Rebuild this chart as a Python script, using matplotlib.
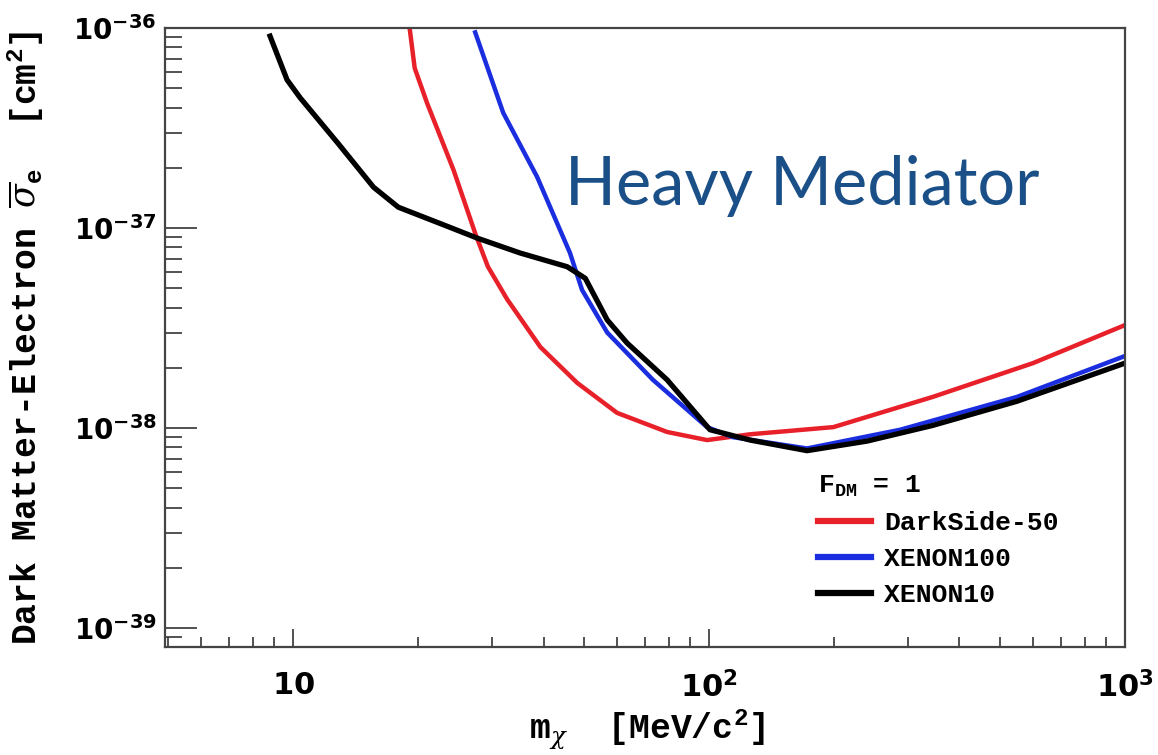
import matplotlib.pyplot as plt
from matplotlib.ticker import LogLocator, FixedLocator, FixedFormatter, NullFormatter

# DarkSide-50 limit
ds50_mass = [19.0, 19.6, 21.0, 24.3, 27.5, 29.4, 32.7, 39.3, 48.2, 60.1, 79.3, 98.9, 125.5, 199, 345, 601, 1000]
ds50_sigma = [1.05e-36, 6.3e-37, 4.2e-37, 1.95e-37, 9.2e-38, 6.4e-38, 4.4e-38, 2.54e-38, 1.68e-38,
              1.19e-38, 9.55e-39, 8.7e-39, 9.3e-39, 1.01e-38, 1.43e-38, 2.11e-38, 3.27e-38]

# XENON100 limit
x100_mass = [27.4, 32.0, 38.6, 46.3, 49.5, 56.9, 73.3, 98.9, 114, 172, 288, 550, 1000]
x100_sigma = [9.5e-37, 3.76e-37, 1.8e-37, 7.5e-38, 4.9e-38, 3.0e-38, 1.74e-38, 1.01e-38,
              9.0e-39, 7.9e-39, 9.8e-39, 1.43e-38, 2.29e-38]

# XENON10 limit
x10_mass = [8.8, 9.67, 10.4, 12.8, 15.6, 17.9, 22.9, 27.7, 35.1, 45.6, 50.4, 56.9, 63.5, 79.3,
            100.5, 125.5, 172, 240, 345, 550, 1000]
x10_sigma = [9.1e-37, 5.5e-37, 4.47e-37, 2.66e-37, 1.6e-37, 1.27e-37, 1.04e-37, 8.9e-38, 7.5e-38,
             6.4e-38, 5.6e-38, 3.47e-38, 2.66e-38, 1.74e-38, 9.8e-39, 8.7e-39, 7.7e-39, 8.6e-39,
             1.03e-38, 1.36e-38, 2.11e-38]

x_ticks = [10, 100, 1000]
x_ticklabels = [r"$\mathbf{10}$", r"$\mathbf{10^{2}}$", r"$\mathbf{10^{3}}$"]
y_ticks = [1e-39, 1e-38, 1e-37, 1e-36]
y_ticklabels = [r"$\mathbf{10^{-39}}$", r"$\mathbf{10^{-38}}$", r"$\mathbf{10^{-37}}$", r"$\mathbf{10^{-36}}$"]

plt.rcParams["mathtext.fontset"] = "custom"
plt.rcParams["mathtext.rm"] = "Liberation Mono:bold"
plt.rcParams["mathtext.it"] = "DejaVu Serif:italic"
plt.rcParams["mathtext.bf"] = "DejaVu Sans:bold"

mono = {"family": "Liberation Mono", "weight": "bold"}

fig = plt.figure(figsize=(11.58, 7.55), dpi=100)
ax = fig.add_axes([0.1425, 0.1431, 0.8290, 0.8199])

ax.plot(ds50_mass, ds50_sigma, color="#e8202a", lw=3.2, label="DarkSide-50")
ax.plot(x100_mass, x100_sigma, color="#1a2ee0", lw=3.2, label="XENON100")
ax.plot(x10_mass, x10_sigma, color="black", lw=3.8, label="XENON10")

ax.set_xscale("log")
ax.set_yscale("log")
ax.set_xlim(4.92, 1000)
ax.set_ylim(8.04e-40, 1e-36)

# ticks: inward, left and bottom only
ax.xaxis.set_major_locator(FixedLocator(x_ticks))
ax.xaxis.set_major_formatter(FixedFormatter(x_ticklabels))
ax.xaxis.set_minor_locator(LogLocator(base=10, subs=range(2, 10)))
ax.xaxis.set_minor_formatter(NullFormatter())
ax.yaxis.set_major_locator(FixedLocator(y_ticks))
ax.yaxis.set_major_formatter(FixedFormatter(y_ticklabels))
ax.yaxis.set_minor_locator(LogLocator(base=10, subs=range(2, 10)))
ax.yaxis.set_minor_formatter(NullFormatter())

ax.tick_params(axis="x", which="major", direction="in", length=13, width=1.2, pad=17, labelsize=22, colors="#333333", labelcolor="black")
ax.tick_params(axis="x", which="minor", direction="in", length=7, width=1.2, colors="#333333")
ax.tick_params(axis="y", which="major", direction="in", length=23, width=1.2, pad=6, labelsize=20, colors="#333333", labelcolor="black")
ax.tick_params(axis="y", which="minor", direction="in", length=12, width=1.2, colors="#333333")
ax.tick_params(top=False, right=False, which="both")

for s in ax.spines.values():
    s.set_color("#444444")
    s.set_linewidth(1.6)

ax.set_xlabel(r"m$_{\chi}$  [MeV/c$^{\mathrm{2}}$]", fontdict=mono, fontsize=25)
ax.xaxis.set_label_coords(0.502, -0.098)
ax.set_ylabel(r"Dark Matter-Electron $\overline{\sigma}_{\mathrm{e}}$  [cm$^{\mathrm{2}}$]", fontdict=mono, fontsize=25)
ax.yaxis.set_label_coords(-0.145, 0.5)
ax.yaxis.label.set_va("center")

leg = ax.legend(loc="upper left", bbox_to_anchor=(805 / 1158, 1 - 461 / 755),
                bbox_transform=fig.transFigure, frameon=False, borderpad=0,
                prop={"family": "Liberation Mono", "weight": "bold", "size": 19},
                title=r"F$_{\mathrm{DM}}$ = 1",
                title_fontproperties={"family": "Liberation Mono", "weight": "bold", "size": 19},
                alignment="left", handlelength=2.0, handletextpad=0.5, labelspacing=0.45)
for line in leg.get_lines():
    line.set_linewidth(4.5)

fig.text(565 / 1158, 1 - 205 / 755, "Heavy Mediator", color="#1a5087",
         fontsize=48, family="Lato", ha="left", va="baseline")

fig.savefig("out.png", dpi=100)
